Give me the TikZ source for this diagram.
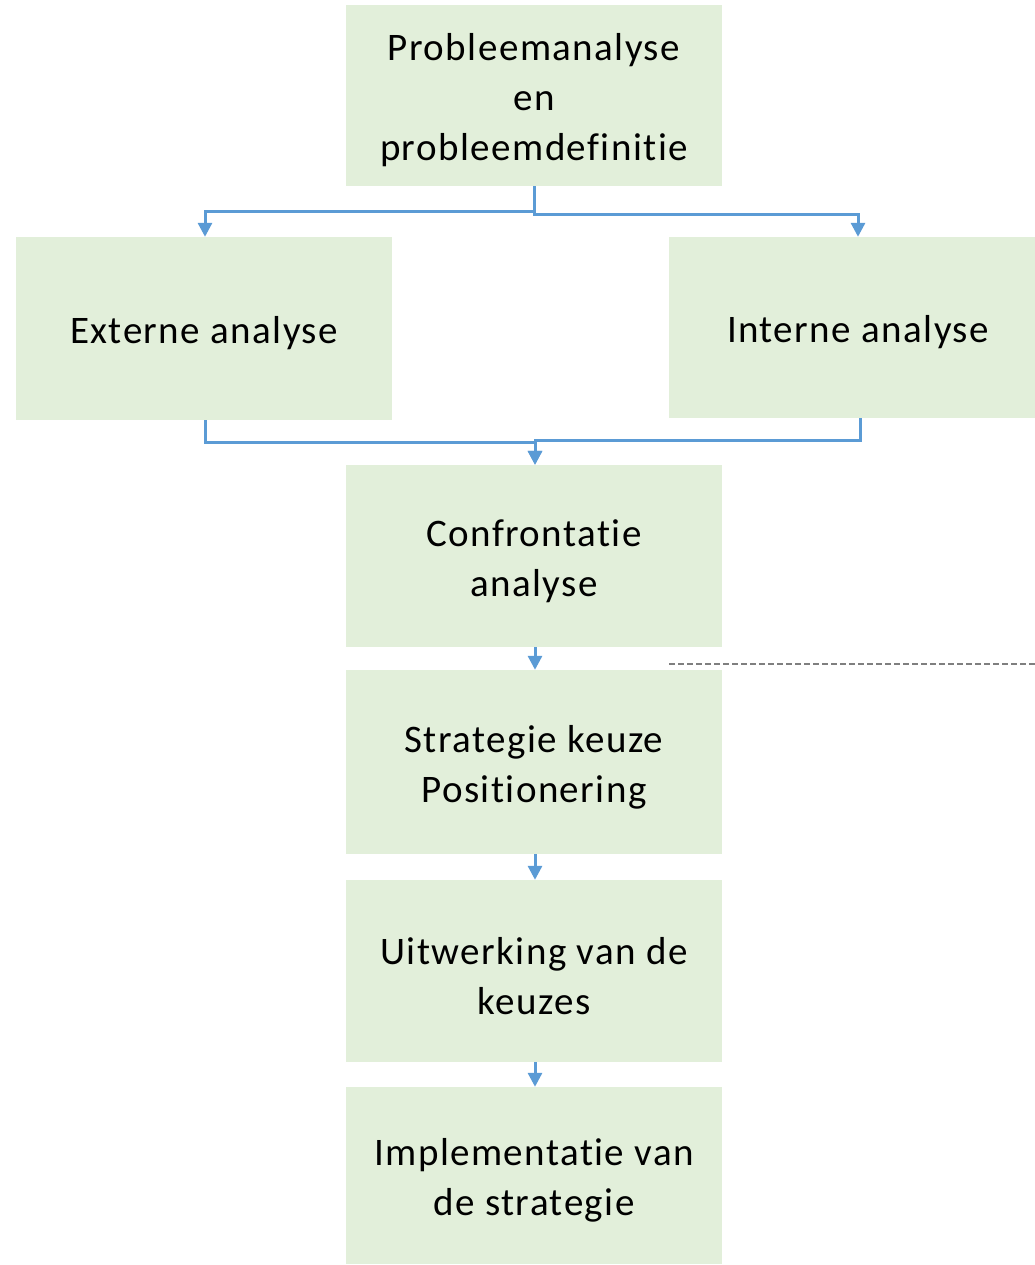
\documentclass[tikz,border=0pt]{standalone}
\usepackage{fontspec}
\setmainfont[Ligatures=NoCommon,LetterSpace=3.7]{Carlito}
\usetikzlibrary{arrows.meta,calc}
\definecolor{boxfill}{HTML}{E2EFDA}
\definecolor{conncol}{HTML}{5B9BD5}
\definecolor{dashcol}{HTML}{7F7F7F}
\tikzset{
  stage/.style={rectangle, fill=boxfill, draw=none, inner sep=0pt},
  stagetext/.style={inner sep=0pt, align=center, yshift=-5pt,
    font=\fontsize{39}{50}\selectfont},
  conn/.style={draw=conncol, line width=3pt, -{Triangle[length=14pt,width=14pt]}},
  dashline/.style={draw=dashcol, line width=1.2pt, dash pattern=on 6pt off 3pt}
}
\begin{document}
\begin{tikzpicture}[x=1pt,y=-1pt]
\useasboundingbox (0,0) rectangle (1035,1265);
\node[stage, minimum width=376pt, minimum height=181pt,
  label={[stagetext]center:Probleemanalyse\\en\\probleemdefinitie}] (top) at (534,95.5) {};
\node[stage, minimum width=376pt, minimum height=183pt,
  label={[stagetext]center:Externe analyse}] (ext) at (204,328.5) {};
\node[stage, minimum width=366pt, minimum height=181pt,
  label={[stagetext,xshift=6pt]center:Interne analyse}] (int) at (852,327.5) {};
\node[stage, minimum width=376pt, minimum height=182pt,
  label={[stagetext]center:Confrontatie\\analyse}] (conf) at (534,556) {};
\node[stage, minimum width=376pt, minimum height=184pt,
  label={[stagetext]center:Strategie keuze\\Positionering}] (strat) at (534,762) {};
\node[stage, minimum width=376pt, minimum height=182pt,
  label={[stagetext]center:Uitwerking van de\\keuzes}] (uitw) at (534,971) {};
\node[stage, minimum width=376pt, minimum height=177pt,
  label={[stagetext]center:Implementatie van\\de strategie}] (impl) at (534,1175.5) {};
% top to two analyses
\draw[conn] (top.south) |- ($(ext.north)+(1,-25)$) -- ($(ext.north)+(1,0)$);
\draw[conn] (top.south) |- ($(int.north)+(6,-22)$) -- ($(int.north)+(6,0)$);
% analyses to confrontation
\draw[conn] ($(ext.south)+(1,0)$) |- ($(conf.north)+(1,-22)$) -- ($(conf.north)+(1,0)$);
\draw[conn] ($(int.south)+(8,0)$) |- ($(conf.north)+(1,-24)$) -- ($(conf.north)+(1,0)$);
% chain
\draw[conn] ($(conf.south)+(1,0)$) -- ($(strat.north)+(1,0)$);
\draw[conn] ($(strat.south)+(1,0)$) -- ($(uitw.north)+(1,0)$);
\draw[conn] ($(uitw.south)+(1,0)$) -- ($(impl.north)+(1,0)$);
% dashed line
\coordinate (d1) at (669,664);
\coordinate (d2) at (1035,664);
\draw[dashline] (d1) -- (d2);
\end{tikzpicture}
\end{document}
